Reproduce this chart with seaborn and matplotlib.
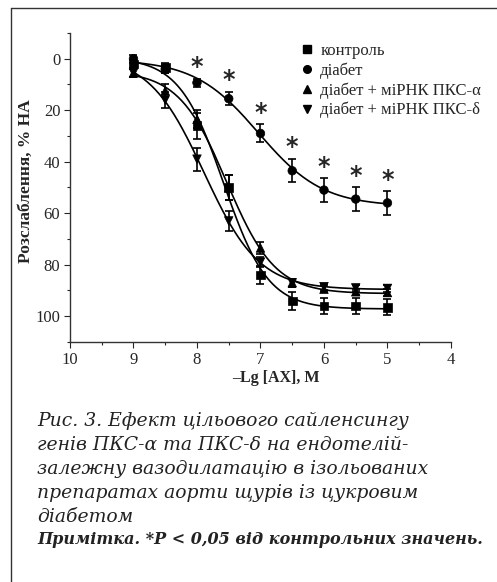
import numpy as np
import pandas as pd
import matplotlib
matplotlib.use("Agg")
import matplotlib.pyplot as plt
from matplotlib.lines import Line2D
from matplotlib.ticker import MultipleLocator
import seaborn as sns

# ── data ────────────────────────────────────────────────────────────────────
LG_AX = [9, 8.5, 8, 7.5, 7, 6.5, 6, 5.5, 5]

control = [2, 3.5, 26, 50, 84, 94, 96, 96, 96.5]
control_err = [1.5, 2, 5, 5, 3.5, 3.5, 3, 3, 3]

diabetes = [0, 4, 9.3, 15.5, 29, 43.5, 51, 54.5, 56]
diabetes_err = [1.5, 1.5, 1.5, 2.5, 3.5, 4.5, 4.5, 4.5, 4.5]

sirna_alpha = [5.5, 12.5, 23.5, 50, 73.5, 87, 89.5, 90.5, 90.8]
sirna_alpha_err = [1.5, 2.5, 3.5, 5, 2.5, 1.5, 1.2, 1.2, 1.2]

sirna_delta = [5.5, 16, 39, 63, 79, 87, 88.5, 89, 89.2]
sirna_delta_err = [1.5, 3, 4.5, 4, 2, 1.5, 1.2, 1.2, 1.2]

# * P < 0.05 vs control (diabetes group)
significant = [False, False, True, True, True, True, True, True, True]

GROUPS = ["контроль", "діабет", "діабет + міРНК ПКС-α", "діабет + міРНК ПКС-δ"]
MARKERS = {GROUPS[0]: "s", GROUPS[1]: "o", GROUPS[2]: "^", GROUPS[3]: "v"}

CAPTION = [
    "Рис. 3. Ефект цільового сайленсингу",
    "генів ПКС-α та ПКС-δ на ендотелій-",
    "залежну вазодилатацію в ізольованих",
    "препаратах аорти щурів із цукровим",
    "діабетом",
]
NOTE = "Примітка. *P < 0,05 від контрольних значень."


def fit_logistic(x, y):
    """4-parameter logistic fit by grid search (linear LS for top/bottom)."""
    c = -np.asarray(x, dtype=float)
    y = np.asarray(y, dtype=float)
    ec = np.arange(-9.5, -4.5, 0.01)
    h = np.arange(0.3, 3.0, 0.02)
    EC, H = np.meshgrid(ec, h, indexing="ij")
    s = 1.0 / (1.0 + 10 ** ((EC[..., None] - c) * H[..., None]))
    sm = s.mean(-1, keepdims=True)
    ym = y.mean()
    b = ((s - sm) * (y - ym)).sum(-1) / ((s - sm) ** 2).sum(-1)
    a = ym - b * sm[..., 0]
    sse = ((a[..., None] + b[..., None] * s - y) ** 2).sum(-1)
    i, j = np.unravel_index(np.argmin(sse), sse.shape)
    xs = np.linspace(max(x), min(x), 200)
    ss = 1.0 / (1.0 + 10 ** ((ec[i] + xs) * h[j]))
    return xs, a[i, j] + b[i, j] * ss


series = {
    GROUPS[0]: (control, control_err),
    GROUPS[1]: (diabetes, diabetes_err),
    GROUPS[2]: (sirna_alpha, sirna_alpha_err),
    GROUPS[3]: (sirna_delta, sirna_delta_err),
}

points = pd.concat(
    [pd.DataFrame({"lg": LG_AX, "val": v, "err": e, "group": g})
     for g, (v, e) in series.items()],
    ignore_index=True,
)
curves = []
for g, (v, e) in series.items():
    xs, ys = fit_logistic(LG_AX, v)
    curves.append(pd.DataFrame({"lg": xs, "val": ys, "group": g}))
curves = pd.concat(curves, ignore_index=True)

# ── style ───────────────────────────────────────────────────────────────────
sns.set_style("ticks")
plt.rcParams["font.family"] = ["Liberation Serif", "DejaVu Serif"]
plt.rcParams["axes.edgecolor"] = "#333333"
plt.rcParams["axes.linewidth"] = 1.0

fig = plt.figure(figsize=(4.97, 5.82), dpi=100)
ax = fig.add_axes([0.1408, 0.4124, 0.7666, 0.5309])

sns.lineplot(data=curves, x="lg", y="val", units="group", estimator=None,
             color="black", lw=1.2, ax=ax, legend=False, zorder=2)

for g, (v, e) in series.items():
    ax.errorbar(LG_AX, v, yerr=e, fmt="none", ecolor="black",
                elinewidth=1.2, capsize=3, capthick=1.2, zorder=3)

sns.scatterplot(data=points, x="lg", y="val", style="group", markers=MARKERS,
                color="black", s=38, edgecolor="black", linewidth=0.5,
                ax=ax, legend=False, zorder=4)

# significance stars above the diabetes points
for xv, v, e, sig in zip(LG_AX, diabetes, diabetes_err, significant):
    if sig:
        ax.text(xv, v - e - 4.6, "*", ha="center", va="center",
                fontsize=17, fontweight="bold", family="DejaVu Sans")

ax.set_xlim(10, 4)
ax.set_ylim(110, -10)
ax.xaxis.set_major_locator(MultipleLocator(1))
ax.xaxis.set_minor_locator(MultipleLocator(0.5))
ax.set_yticks([0, 20, 40, 60, 80, 100])
ax.yaxis.set_minor_locator(MultipleLocator(10))
ax.tick_params(which="major", length=4, width=0.8, labelsize=12, pad=3)
ax.tick_params(which="minor", length=2.5, width=0.8)
sns.despine(ax=ax)

ax.set_xlabel("–Lg [AX], M", fontsize=11.5, fontweight="bold", labelpad=1)
ax.xaxis.set_label_coords(0.54, -0.09)
ax.set_ylabel("Розслаблення, % НА", fontsize=12.5, fontweight="bold")
ax.yaxis.set_label_coords(-0.094, 0.52)

handles = [Line2D([], [], ls="none", marker=MARKERS[g], color="black",
                  markersize=5.5) for g in GROUPS]
ax.legend(handles, GROUPS, loc="upper left", bbox_to_anchor=(0.6, 0.968),
          frameon=False, fontsize=12, handlelength=1.0, handletextpad=0.3,
          labelspacing=0.2, borderpad=0, borderaxespad=0)

# frame around the figure panel
fig.add_artist(Line2D([0.0221, 0.0221], [0, 0.9863], color="#333333", lw=1.0,
                      transform=fig.transFigure))
fig.add_artist(Line2D([0.0221, 1.0], [0.9863, 0.9863], color="#333333", lw=1.0,
                      transform=fig.transFigure))

# caption
y0 = 421
for k, line in enumerate(CAPTION):
    fig.text(37 / 497, 1 - (y0 + 24 * k) / 582, line, ha="left", va="center",
             fontsize=13.5, style="italic", family="DejaVu Serif", color="#222222")
fig.text(37 / 497, 1 - 540 / 582, NOTE, ha="left", va="center",
         fontsize=11.5, style="italic", fontweight="bold", family="DejaVu Serif",
         color="#222222")

fig.savefig("out.png", dpi=100)
